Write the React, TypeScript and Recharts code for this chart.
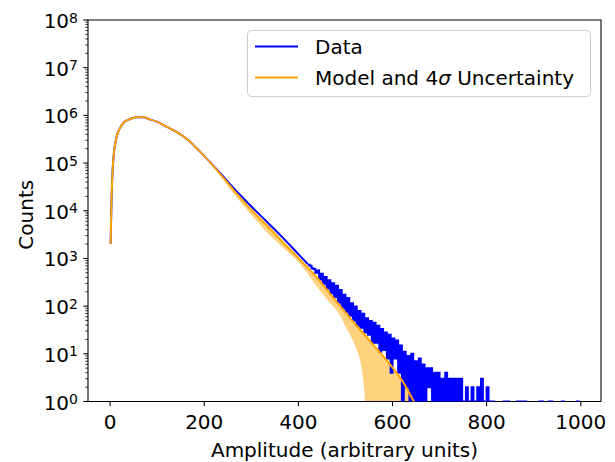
import React from "react";
import { ComposedChart, Line, Area, XAxis, YAxis, ReferenceArea, Legend } from "recharts";

// amplitude bins (arbitrary units) and counts
const smoothAmp = [1, 3, 5, 8, 14, 21, 31, 42, 56, 70, 84, 99, 120, 141, 163, 191, 212, 233, 262, 297, 333, 360, 380, 400, 420];
const dataCounts = [2000, 16600, 62000, 160000, 360000, 540000, 740000, 830000, 910000, 910000, 830000, 740000, 580000, 450000, 320000, 174000, 105000, 63000, 30000, 13200, 5900, 3200, 2000, 1230, 760];

// noisy tail, 4-unit bins starting at 420
const tailStart = 420;
const tailBin = 4;
const tailCounts = [
  740, 700, 620, 600, 500,
  560, 363, 480, 295, 407, 234, 347, 186, 302, 155,
  269, 117, 219, 93, 174, 76, 148, 63, 115, 50,
  98, 39, 79, 35, 69, 28, 56, 25, 49, 17,
  45, 17, 39, 11, 33, 12, 28, 8, 25, 4,
  21, 8, 19, 4, 15, 0, 11, 2, 9, 0,
  10, 1, 7, 0, 8, 1, 6, 0, 5, 2,
  5, 0, 4, 1, 4, 0, 3, 1, 4, 0,
  3, 0, 3, 1, 3, 0, 3, 1, 1, 2,
  1, 1, 2, 1, 1, 2, 1, 3, 1, 1,
  2, 0, 1, 1, 0, 0, 0, 0, 0, 1,
  1, 1, 0, 0, 0, 0, 1, 0, 1, 1,
  1, 0, 0, 0, 0, 0, 0, 0, 1, 1,
  0, 0, 0, 1, 1, 0, 0, 0, 0, 0,
  1, 0, 0, 0, 0, 0, 0, 0, 1, 0,
];

const modelAmp = [1, 3, 5, 8, 14, 21, 31, 42, 56, 70, 84, 99, 120, 141, 163, 191, 212, 233, 262, 297, 333, 368, 404, 439, 467, 510, 552, 595, 623, 641, 660];
const modelCounts = [2000, 16600, 62000, 160000, 360000, 540000, 740000, 830000, 910000, 910000, 830000, 740000, 580000, 450000, 320000, 174000, 105000, 60000, 27500, 11200, 4900, 2140, 930, 400, 182, 56, 18.6, 5.9, 2.5, 1.2, 0.56];

const bandAmp = [212, 233, 262, 297, 333, 368, 404, 439, 467, 489, 503, 510, 524, 531, 535, 540, 543, 546, 552, 595, 623, 641, 660];
const bandLow = [105000, 56000, 23400, 8900, 3550, 1660, 760, 257, 117, 63, 33, 25, 12, 7.4, 4.6, 1.74, 0.5, 0.03, 0, 0, 0, 0, 0];
const bandHigh = [107000, 64600, 29500, 12000, 5250, 2300, 1000, 427, 195, 107, 72, 60, 42, 35, 31, 27.5, 25, 23.4, 20, 6.3, 2.7, 1.29, 0.6];

const xTicks = [0, 200, 400, 600, 800, 1000];
const yTicks = [1, 10, 100, 1000, 10000, 100000, 1000000, 10000000, 100000000];
const legendLabels = ["Data", "Model and 4σ Uncertainty"];

const FONT = "DejaVu Sans, sans-serif";
const FLOOR = 0.01; // empty bins fall below the axis like log(0)
const plotCount = (c: number) => (c > 0 ? c : FLOOR);

const smoothData = smoothAmp.map((x, i) => ({ x, y: dataCounts[i] }));
const tailData = tailCounts.map((c, i) => ({ x: tailStart + i * tailBin, y: plotCount(c) }));
const modelData = modelAmp.map((x, i) => ({ x, y: modelCounts[i] }));
const bandData = bandAmp.map((x, i) => ({ x, range: [plotCount(bandLow[i]), bandHigh[i]] }));

const minorTicks: number[] = [];
yTicks.slice(0, -1).forEach((d) => {
  for (let k = 2; k <= 9; k++) minorTicks.push(d * k);
});
const allYTicks = [...yTicks, ...minorTicks].sort((a, b) => a - b);

function YTick(props: any) {
  const { x, y, payload } = props;
  const v = payload.value;
  const exp = Math.round(Math.log10(v));
  const major = yTicks.includes(v);
  if (!major) {
    return <line x1={x - 2.7} x2={x} y1={y} y2={y} stroke="#000" strokeWidth={0.8} />;
  }
  return (
    <g>
      <line x1={x - 4.7} x2={x} y1={y} y2={y} stroke="#000" strokeWidth={1.07} />
      <text x={x - 10} y={y + 8} textAnchor="end" fontFamily={FONT} fontSize={20} fill="#000">
        10
        <tspan dy={-5.5} fontSize={14}>{exp}</tspan>
      </text>
    </g>
  );
}

function XTick(props: any) {
  const { x, y, payload } = props;
  return (
    <g>
      <line x1={x} x2={x} y1={y} y2={y + 4.7} stroke="#000" strokeWidth={1.07} />
      <text x={x} y={y + 27.5} textAnchor="middle" fontFamily={FONT} fontSize={20} fill="#000">
        {payload.value}
      </text>
    </g>
  );
}

const renderYLabel = (props: any) => {
  const vb = props.viewBox;
  const cy = vb.y + vb.height / 2 + 4;
  return (
    <text x={33} y={cy} transform={`rotate(-90, 33, ${cy})`} textAnchor="middle" fontFamily={FONT} fontSize={20} fill="#000">
      Counts
    </text>
  );
};

const renderXLabel = (props: any) => {
  const vb = props.viewBox;
  return (
    <text x={vb.x + vb.width / 2} y={457} textAnchor="middle" fontFamily={FONT} fontSize={20} fill="#000">
      Amplitude (arbitrary units)
    </text>
  );
};

const renderLegend = () => (
  <svg width={344} height={67} style={{ display: "block" }}>
    <rect x={0.5} y={0.5} width={343} height={66} rx={4} fill="rgba(255,255,255,0.8)" stroke="#cccccc" />
    {legendLabels.map((label, i) => (
      <g key={label}>
        <line x1={8} x2={51} y1={16.6 + i * 31} y2={16.6 + i * 31} stroke={i === 0 ? "#0000ff" : "#ffa500"} strokeWidth={2} />
        <text x={68} y={24.3 + i * 31} fontFamily={FONT} fontSize={20} fill="#000">
          {i === 0 ? label : (
            <>
              Model and 4<tspan fontStyle="italic">σ</tspan> Uncertainty
            </>
          )}
        </text>
      </g>
    ))}
  </svg>
);

export default function App() {
  return (
    <div style={{ position: "absolute", left: 0, top: 0, width: 615, height: 462, background: "#fff" }}>
      <ComposedChart width={615} height={462} margin={{ top: 20, right: 14, bottom: 0.5, left: 0 }}>
        <XAxis
          type="number"
          dataKey="x"
          domain={[-47, 1043]}
          allowDataOverflow
          ticks={xTicks}
          interval={0}
          height={60}
          axisLine={false}
          tickLine={false}
          tickSize={0}
          tickMargin={0}
          tick={<XTick />}
          label={{ content: renderXLabel }}
        />
        <YAxis
          type="number"
          scale="log"
          domain={[1, 100000000]}
          allowDataOverflow
          ticks={allYTicks}
          interval={0}
          width={88}
          axisLine={false}
          tickLine={false}
          tickSize={0}
          tickMargin={0}
          tick={<YTick />}
          label={{ content: renderYLabel }}
        />
        <Legend
          layout="vertical"
          align="center"
          verticalAlign="middle"
          content={renderLegend}
          wrapperStyle={{ left: 247, top: 30, width: 344, height: 67 }}
        />
        <Line data={smoothData} dataKey="y" type="monotone" stroke="#0000ff" strokeWidth={2} dot={false} isAnimationActive={false} />
        <Line data={tailData} dataKey="y" type="stepAfter" stroke="#0000ff" strokeWidth={2} dot={false} isAnimationActive={false} />
        <Area data={bandData} dataKey="range" type="monotone" stroke="none" fill="#ffd280" fillOpacity={1} isAnimationActive={false} />
        <Line data={modelData} dataKey="y" type="monotone" stroke="#ffa500" strokeWidth={2} dot={false} isAnimationActive={false} />
        <ReferenceArea x1={-47} x2={1043} y1={1} y2={100000000} fill="none" stroke="#000" strokeWidth={1.07} ifOverflow="visible" />
      </ComposedChart>
    </div>
  );
}
